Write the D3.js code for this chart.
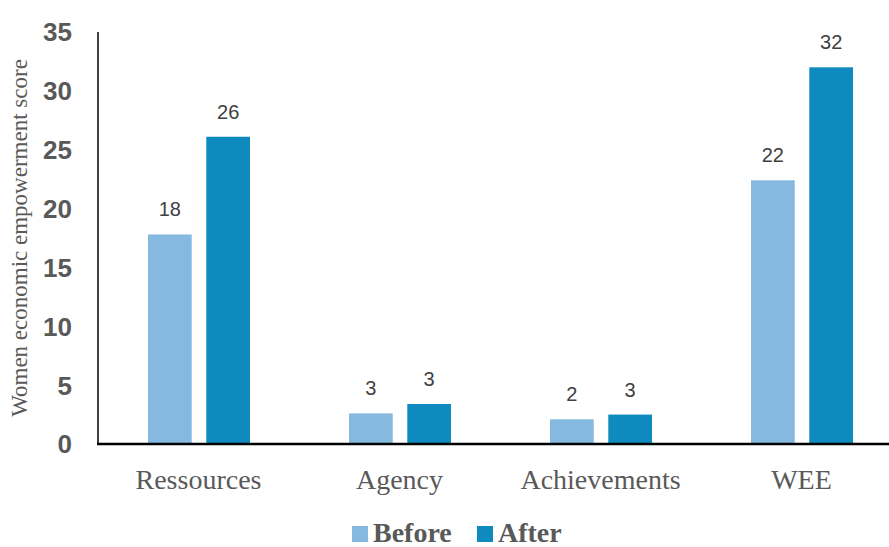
<!DOCTYPE html>
<html>
<head>
<meta charset="utf-8">
<script src="https://cdn.jsdelivr.net/npm/d3@7"></script>
<style>
  body { margin: 0; background: #fff; }
</style>
</head>
<body>
<div id="chart"></div>
<script>
const categories = ["Ressources", "Agency", "Achievements", "WEE"];
const seriesNames = ["Before", "After"];
const beforeValues = [17.8, 2.6, 2.1, 22.4];
const afterValues = [26.1, 3.4, 2.5, 32.0];
const beforeLabels = ["18", "3", "2", "22"];
const afterLabels = ["26", "3", "3", "32"];
const yTicks = [0, 5, 10, 15, 20, 25, 30, 35];

const colors = { Before: "#85b9e0", After: "#0e8abe" };

const W = 889, H = 547;
const margin = { top: 32, left: 98, bottom: 103 };
const plotH = H - margin.top - margin.bottom;

const rows = categories.map((c, i) => ({
  cat: c,
  vals: [
    { s: "Before", v: beforeValues[i], label: beforeLabels[i] },
    { s: "After", v: afterValues[i], label: afterLabels[i] }
  ]
}));

const svg = d3.select("#chart").append("svg")
  .attr("width", W)
  .attr("height", H);

const x = d3.scaleBand()
  .domain(categories)
  .range([margin.left, margin.left + 804]);

const xs = d3.scaleBand()
  .domain(seriesNames)
  .range([50, 152])
  .paddingInner(0.25);

const y = d3.scaleLinear()
  .domain([0, 35])
  .range([margin.top + plotH, margin.top]);

// y tick labels
svg.append("g")
  .selectAll("text")
  .data(yTicks)
  .join("text")
    .attr("x", 72)
    .attr("y", d => y(d))
    .attr("dy", "0.36em")
    .attr("text-anchor", "end")
    .attr("font-family", "Liberation Sans, Arial, sans-serif")
    .attr("font-weight", "bold")
    .attr("font-size", 26)
    .attr("fill", "#595959")
    .text(d => d);

// bars
const groups = svg.append("g")
  .selectAll("g")
  .data(rows)
  .join("g")
    .attr("transform", d => `translate(${x(d.cat)},0)`);

groups.selectAll("rect")
  .data(d => d.vals)
  .join("rect")
    .attr("x", d => xs(d.s))
    .attr("width", xs.bandwidth())
    .attr("y", d => y(d.v))
    .attr("height", d => y(0) - y(d.v))
    .attr("fill", d => colors[d.s]);

groups.selectAll("text")
  .data(d => d.vals)
  .join("text")
    .attr("x", d => xs(d.s) + xs.bandwidth() / 2)
    .attr("y", d => y(d.v) - 18)
    .attr("text-anchor", "middle")
    .attr("font-family", "Liberation Sans, Arial, sans-serif")
    .attr("font-size", 20)
    .attr("fill", "#404040")
    .text(d => d.label);

// axes lines
svg.append("line")
  .attr("x1", margin.left).attr("x2", margin.left)
  .attr("y1", y(35)).attr("y2", y(0))
  .attr("stroke", "#000").attr("stroke-width", 1.5);

svg.append("line")
  .attr("x1", margin.left - 1).attr("x2", W)
  .attr("y1", y(0)).attr("y2", y(0))
  .attr("stroke", "#000").attr("stroke-width", 2.5);

// category labels
svg.append("g")
  .selectAll("text")
  .data(categories)
  .join("text")
    .attr("x", d => x(d) + x.bandwidth() / 2)
    .attr("y", 489)
    .attr("text-anchor", "middle")
    .attr("font-family", "Liberation Serif, Times New Roman, serif")
    .attr("font-size", 28)
    .attr("fill", "#595959")
    .text(d => d);

// y title
svg.append("text")
  .attr("transform", `translate(27,${(y(0) + y(35)) / 2}) rotate(-90)`)
  .attr("text-anchor", "middle")
  .attr("font-family", "Liberation Serif, Times New Roman, serif")
  .attr("font-size", 23)
  .attr("fill", "#595959")
  .text("Women economic empowerment score");

// legend
const legendX = [352, 477];
const legend = svg.append("g")
  .selectAll("g")
  .data(seriesNames)
  .join("g")
    .attr("transform", (d, i) => `translate(${legendX[i]},526)`);

legend.append("rect")
  .attr("width", 16).attr("height", 16)
  .attr("fill", d => colors[d]);

legend.append("text")
  .attr("x", 21)
  .attr("y", 16)
  .attr("font-family", "Liberation Serif, Times New Roman, serif")
  .attr("font-weight", "bold")
  .attr("font-size", 28)
  .attr("fill", "#595959")
  .text(d => d);
</script>
</body>
</html>
